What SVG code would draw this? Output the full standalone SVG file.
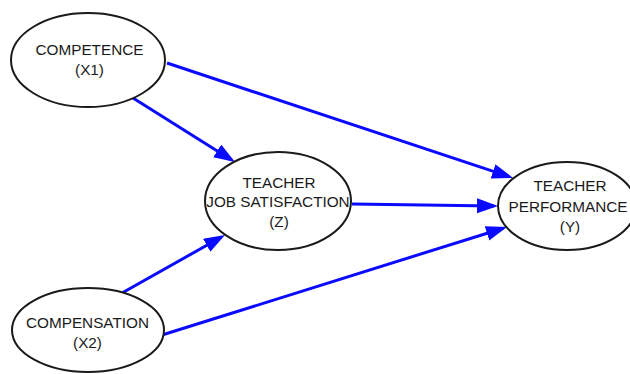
<svg xmlns="http://www.w3.org/2000/svg" width="630" height="374" viewBox="0 0 630 374">
<style>
.node ellipse { fill: #ffffff; stroke: #1a1a1a; stroke-width: 2; }
.node text { font-family: "Liberation Sans", Arial, sans-serif; font-size: 15.3px; fill: #1a1a1a; text-anchor: middle; }
.edge { stroke: #0a0aff; stroke-width: 3; fill: none; marker-end: url(#arrow); }
</style>
<defs>
<marker id="arrow" markerUnits="userSpaceOnUse" markerWidth="22" markerHeight="16" refX="17" refY="7.5" orient="auto">
<path d="M0,0 L21,7.5 L0,15 z" fill="#0a0aff"/>
</marker>
</defs>
<rect width="630" height="374" fill="#ffffff"/>
<g id="connectors">
<line class="edge" x1="167" y1="63" x2="509.2" y2="176.7"/>
<line class="edge" x1="133" y1="98" x2="231.6" y2="159.9"/>
<line class="edge" x1="352" y1="204" x2="494" y2="205.9"/>
<line class="edge" x1="122" y1="293" x2="221.5" y2="237"/>
<line class="edge" x1="162" y1="335" x2="503.2" y2="228.2"/>
</g>
<g id="competence" class="node">
<ellipse cx="88" cy="60" rx="77" ry="47"/>
<text x="89.5" y="55">COMPETENCE</text>
<text x="89.5" y="75">(X1)</text>
</g>
<g id="compensation" class="node">
<ellipse cx="88" cy="330" rx="76" ry="42"/>
<text x="87.5" y="328">COMPENSATION</text>
<text x="87.5" y="348">(X2)</text>
</g>
<g id="job-satisfaction" class="node">
<ellipse cx="278" cy="201" rx="73" ry="49"/>
<text x="279" y="188">TEACHER</text>
<text x="278" y="207">JOB SATISFACTION</text>
<text x="279" y="227">(Z)</text>
</g>
<g id="performance" class="node">
<ellipse cx="567" cy="206" rx="69" ry="44"/>
<text x="570" y="191">TEACHER</text>
<text x="568" y="212">PERFORMANCE</text>
<text x="570" y="232">(Y)</text>
</g>
</svg>
